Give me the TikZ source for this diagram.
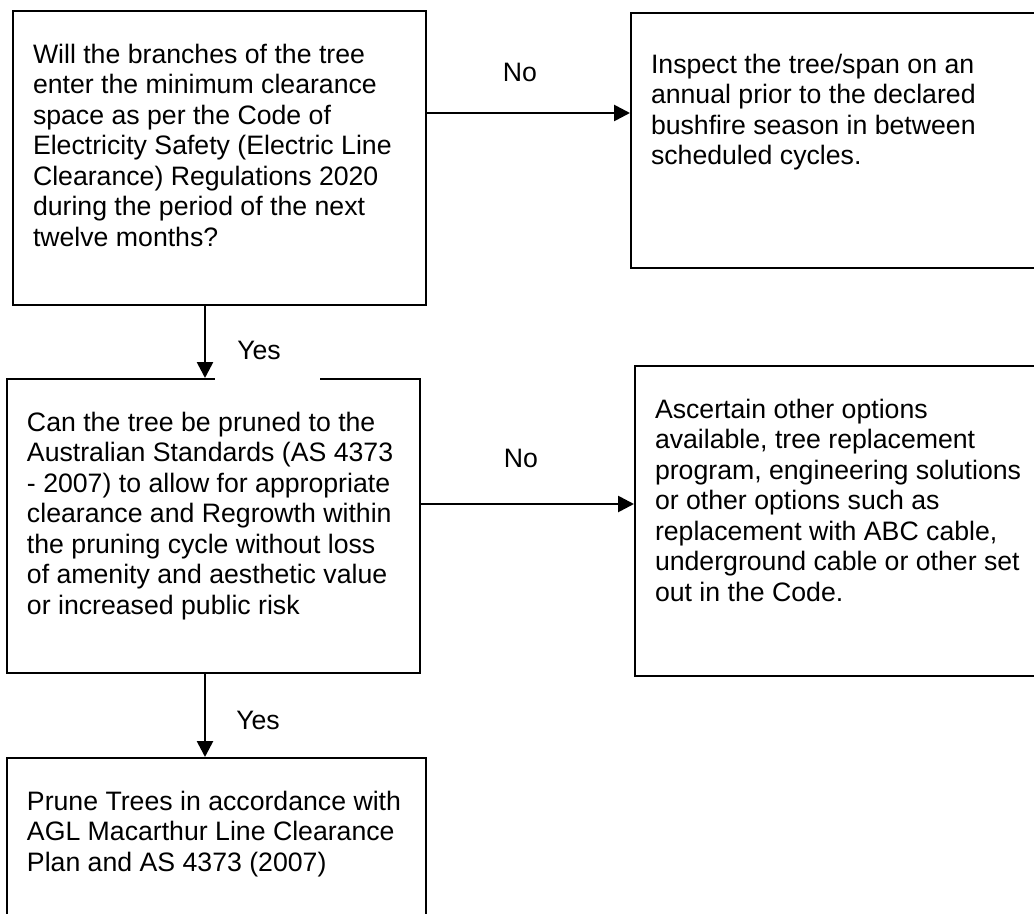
\documentclass[tikz,border=0pt]{standalone}
\usepackage{fontspec}
\setmainfont{Liberation Sans}
\usetikzlibrary{arrows.meta,calc}

% width, height, space above first line, text
\newcommand{\blocktext}[4]{%
  \parbox[c][#2][t]{#1}{\raggedright\vspace*{#3}\leftskip=15pt\strut#4}}

\begin{document}
\begin{tikzpicture}[
	x=0.75pt, y=-0.75pt,
	font=\fontsize{20pt}{22.9pt}\selectfont,
	block/.style={
		rectangle, draw=black, line width=1.5pt,
		inner sep=0pt, anchor=north west
	},
	line/.style={draw, line width=2pt, -{Triangle[length=12pt,width=12pt]}},
	lbl/.style={inner sep=0pt},
	]
	\useasboundingbox (0,0) rectangle (1034,913);

	\node [block] (q1) at (12,10) {\blocktext{309.75pt}{220.5pt}{23pt}{%
		Will the branches of the tree\\
		enter the minimum clearance\\
		space as per the Code of\\
		Electricity Safety (Electric Line\\
		Clearance) Regulations 2020\\
		during the period of the next\\
		twelve months?}};
	\node [block] (q2) at (630,12) {\blocktext{303pt}{191.25pt}{29pt}{%
		Inspect the tree/span on an\\
		annual prior to the declared\\
		bushfire season in between\\
		scheduled cycles.}};
	\node [block] (q3) at (6,378) {\blocktext{309.75pt}{220.5pt}{23pt}{%
		Can the tree be pruned to the\\
		Australian Standards (AS 4373\\
		- 2007) to allow for appropriate\\
		clearance and Regrowth within\\
		the pruning cycle without loss\\
		of amenity and aesthetic value\\
		or increased public risk}};
	\node [block] (q4) at (634,365) {\blocktext{300pt}{232.5pt}{23pt}{%
		Ascertain other options\\
		available, tree replacement\\
		program, engineering solutions\\
		or other options such as\\
		replacement with ABC cable,\\
		underground cable or other set\\
		out in the Code.}};
	\node [block] (q5) at (6,757) {\blocktext{314.25pt}{135pt}{23pt}{%
		Prune Trees in accordance with\\
		AGL Macarthur Line Clearance\\
		Plan and AS 4373 (2007)}};

	\path [line] ($(q1.north east)+(0,103)$) -- ($(q2.north west)+(0,101)$);
	\path [line] ($(q1.south west)+(193,0)$) -- ($(q3.north west)+(199,0)$);
	\path [line] ($(q3.north east)+(0,126)$) -- ($(q4.north west)+(0,139)$);
	\path [line] ($(q3.south west)+(199,0)$) -- ($(q5.north west)+(199,0)$);

	\node [lbl] (no1) at (520,72) {No};
	\node [lbl] (no2) at (521,458) {No};
	\node [lbl, fill=white, anchor=south west, text width=78.75pt, text depth=15pt]
		(yes1) at (215,380) {\hspace*{16.5pt}Yes};
	\node [lbl] (yes2) at (258,720) {Yes};
\end{tikzpicture}
\end{document}
